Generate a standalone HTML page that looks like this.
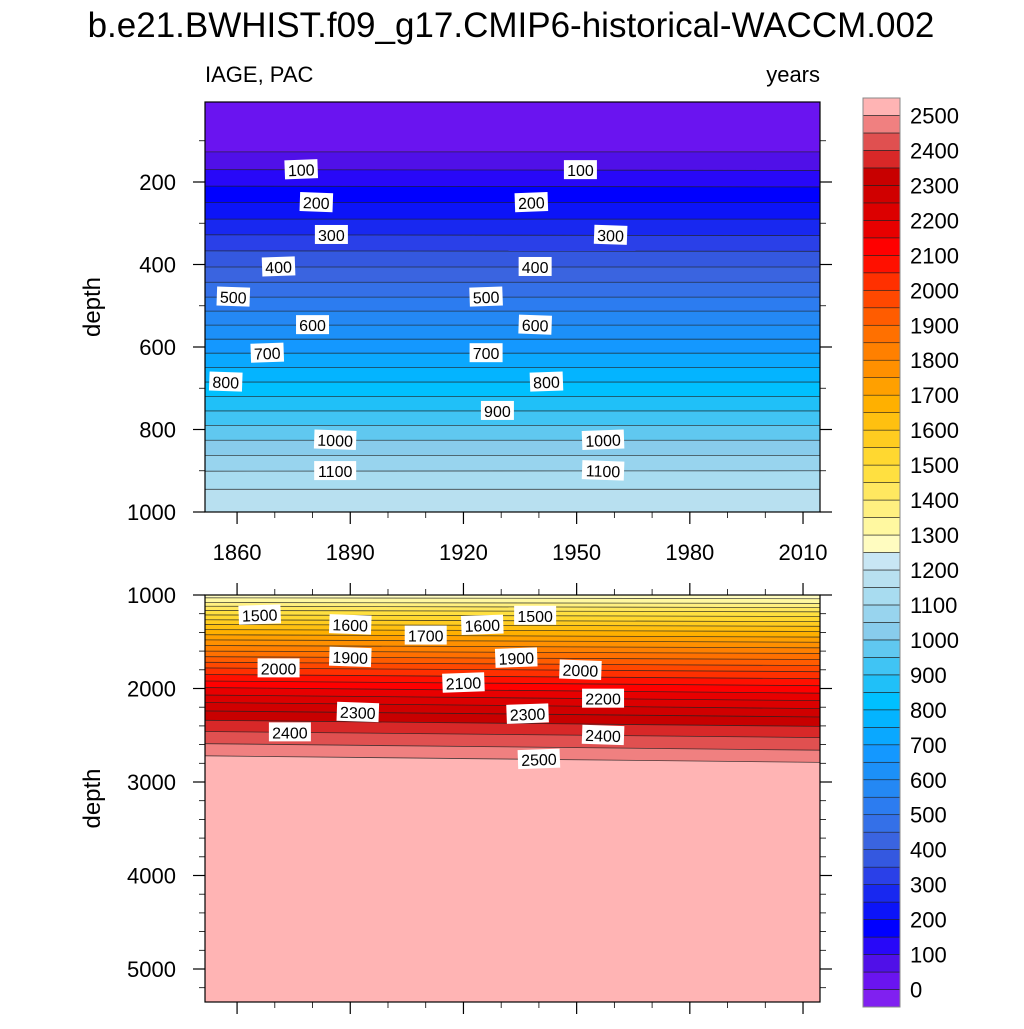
<!DOCTYPE html>
<html><head><meta charset="utf-8"><style>
body{margin:0;background:#fff;}
svg text{font-family:"Liberation Sans",sans-serif;}
</style></head><body>
<svg id="chart" width="1024" height="1024" viewBox="0 0 1024 1024" xmlns="http://www.w3.org/2000/svg">
<text x="511" y="37" text-anchor="middle" font-size="35">b.e21.BWHIST.f09_g17.CMIP6-historical-WACCM.002</text>
<text x="205" y="82" font-size="22">IAGE, PAC</text>
<text x="820" y="82" font-size="22" text-anchor="end">years</text>
<g id="top"></g><g id="bot"></g><g id="cbar"></g>
</svg>
<script>
const NS='http://www.w3.org/2000/svg';
const bandColors=['#8020f0','#6a14f0','#5010e8','#2808f8','#0000ff','#0c14f8','#1828f0','#2a40e8','#3458e0','#3a64e0','#3470e8','#2c7cf0','#2488f4','#1c90f8','#1498ff','#0aa8ff','#04b4ff','#00c0ff','#20c0f8','#40c4f4','#60c8f0','#88ccec','#98d4ee','#a8dcf0','#b8e0f0','#c8e6f4',
'#fffcc0','#fff8a0','#fff080','#ffe860','#ffe040','#ffd830','#ffcc20','#ffc010','#ffb000','#ffa000','#ff9000','#ff8000','#ff7000','#ff5c00','#ff4800','#ff3000','#ff1000','#ff0000','#e80000','#dc0000','#d00000','#c80000','#d82828','#e05050','#f08080','#ffb4b4'];
const topLevels=[50,100,150,200,250,300,350,400,450,500,550,600,650,700,750,800,850,900,950,1000,1050,1100,1150];
const topDepthStart=[127,170,210,250,290,328,367,406,443,479,513,547,581,615,650,685,720,755,790,826,863,901,945];
const topDepthEnd=[127,172,212,250,290,330,368,406,443,479,513,547,581,615,650,685,720,755,790,826,863,900,945];
const botLevels=[1300,1350,1400,1450,1500,1550,1600,1650,1700,1750,1800,1850,1900,1950,2000,2050,2100,2150,2200,2250,2300,2350,2400,2450,2500];
const botDepthStart=[1030,1080,1120,1165,1213,1265,1315,1370,1425,1480,1540,1600,1660,1720,1780,1850,1920,1990,2070,2150,2240,2340,2460,2590,2720];
const botDepthEnd=[1040,1090,1135,1180,1230,1285,1335,1390,1450,1505,1565,1625,1690,1755,1820,1895,1970,2050,2130,2215,2305,2405,2525,2660,2790];
const topLabelVals=[100,100,200,200,300,300,400,400,500,500,600,600,700,700,800,800,900,1000,1000,1100,1100];
const topLabelYears=[1877,1951,1881,1938,1885,1959,1871,1939,1859,1926,1880,1939,1868,1926,1857,1942,1929,1886,1957,1886,1957];
const botLabelVals=[1500,1500,1600,1600,1700,1900,1900,2000,2000,2100,2200,2300,2300,2400,2400,2500];
const botLabelYears=[1866,1939,1890,1925,1910,1890,1934,1871,1951,1920,1957,1892,1937,1874,1957,1940];
const xTicks=[1860,1890,1920,1950,1980,2010];
const topYTicks=[200,400,600,800,1000];
const botYTicks=[1000,2000,3000,4000,5000];
const cbLabels=[0,100,200,300,400,500,600,700,800,900,1000,1100,1200,1300,1400,1500,1600,1700,1800,1900,2000,2100,2200,2300,2400,2500];

const X0=205,X1=820,Y0=1851.5,Y1=2014.5;
const xs=y=>X0+(y-Y0)/(Y1-Y0)*(X1-X0);
function mk(tag,attrs,parent,name,text){const e=document.createElementNS(NS,tag);for(const k in attrs)e.setAttribute(k,attrs[k]);


if(text!==undefined)e.textContent=text;parent.appendChild(e);return e;}
function bandIndex(v){return v<0?0:Math.floor(v/50)+1;}

function panel(g,cfg){
  const {top,bot,ys,levels,ds,de,name}=cfg;
  const cid='clip-'+name;
  const defs=mk('defs',{},g,name+'-defs');
  const cp=mk('clipPath',{id:cid},defs,name+'-clip');
  mk('rect',{x:X0,y:top,width:X1-X0,height:bot-top},cp,name+'-clip-rect');
  const cg=mk('g',{'clip-path':'url(#'+cid+')'},g,name+'-contours');
  mk('rect',{x:X0,y:top,width:X1-X0,height:bot-top,fill:bandColors[bandIndex(levels[0]-1)]},cg,name+'-base-fill');
  const ya=xs(Y0),yb=xs(Y1);
  levels.forEach((L,i)=>{
    const p1=ys(ds[i]),p2=ys(de[i]);
    mk('polygon',{points:`${ya},${p1} ${yb},${p2} ${yb},${bot+5} ${ya},${bot+5}`,fill:bandColors[bandIndex(L)]},cg,name+'-band-'+L);
  });
  levels.forEach((L,i)=>{
    mk('line',{x1:ya,y1:ys(ds[i]),x2:yb,y2:ys(de[i]),stroke:'#222','stroke-width':0.8,'stroke-opacity':0.8},cg,name+'-contour-'+L);
  });
  mk('rect',{x:X0,y:top,width:X1-X0,height:bot-top,fill:'none',stroke:'#000','stroke-width':1.2},g,name+'-frame');
}
function depthAt(levels,ds,de,L,yr){const i=levels.indexOf(L);const t=(yr-Y0)/(Y1-Y0);return ds[i]+(de[i]-ds[i])*t;}
function labels(g,vals,years,levels,ds,de,ys,name){
  vals.forEach((v,i)=>{
    const x=xs(years[i]),y=ys(depthAt(levels,ds,de,v,years[i]));
    const w=v>=1000?42:33;
    const lg=mk('g',{transform:`rotate(${(i%3-1)*2} ${x} ${y})`},g,name+'-label-'+v);
    mk('rect',{x:x-w/2,y:y-10,width:w,height:19,fill:'#fff'},lg,name+'-label-box');
    mk('text',{x:x,y:y+6,'text-anchor':'middle','font-size':16},lg,name+'-label-text',String(v));
  });
}
function axes(g,cfg){
  const {top,bot,ys,yTicks,minor,name,xLabels,topTicks}=cfg;
  yTicks.forEach(t=>{const y=ys(t);
    mk('line',{x1:X0-12,y1:y,x2:X0,y2:y,stroke:'#000','stroke-width':1.2},g,name+'-ytick');
    mk('line',{x1:X1,y1:y,x2:X1+12,y2:y,stroke:'#000','stroke-width':1.2},g,name+'-ytick-right');
    mk('text',{x:X0-29,y:y+8,'text-anchor':'end','font-size':22},g,name+'-ytick-label',String(t));});
  minor.forEach(t=>{const y=ys(t);if(y<top-1||y>bot+1)return;
    mk('line',{x1:X0-6,y1:y,x2:X0,y2:y,stroke:'#000','stroke-width':0.8},g,name+'-yminor');
    mk('line',{x1:X1,y1:y,x2:X1+6,y2:y,stroke:'#000','stroke-width':0.8},g,name+'-yminor-right');});
  for(let yr=1860;yr<=2010;yr+=10){const x=xs(yr);const maj=xTicks.includes(yr);const l=maj?12:6;
    mk('line',{x1:x,y1:bot,x2:x,y2:bot+l,stroke:'#000','stroke-width':maj?1.2:0.8},g,name+'-xtick');
    if(topTicks)mk('line',{x1:x,y1:top-l,x2:x,y2:top,stroke:'#000','stroke-width':maj?1.2:0.8},g,name+'-xtick-top');}
  if(xLabels)xTicks.forEach(t=>mk('text',{x:xs(t),y:560,'text-anchor':'middle','font-size':22},g,name+'-xtick-label',String(t)));
  const cy=(top+bot)/2;
  mk('text',{x:100,y:cy,'text-anchor':'middle','font-size':24,transform:`rotate(-90 100 ${cy})`},g,name+'-y-axis-title','depth');
}
const ysTop=d=>99.5+d*0.4125;
const ysBot=d=>595+(d-1000)*0.0935;
const gt=document.getElementById('top'),gb=document.getElementById('bot');
panel(gt,{top:102,bot:512,ys:ysTop,levels:topLevels,ds:topDepthStart,de:topDepthEnd,name:'top-panel'});
labels(gt,topLabelVals,topLabelYears,topLevels,topDepthStart,topDepthEnd,ysTop,'top-panel');
const mt=[];for(let d=100;d<=1000;d+=100)mt.push(d);
axes(gt,{top:102,bot:512,ys:ysTop,yTicks:topYTicks,minor:mt,name:'top-panel',xLabels:true,topTicks:false});
panel(gb,{top:595,bot:1002,ys:ysBot,levels:botLevels,ds:botDepthStart,de:botDepthEnd,name:'bottom-panel'});
labels(gb,botLabelVals,botLabelYears,botLevels,botDepthStart,botDepthEnd,ysBot,'bottom-panel');
const mb=[];for(let d=1000;d<=5400;d+=200)mb.push(d);
axes(gb,{top:595,bot:1002,ys:ysBot,yTicks:botYTicks,minor:mb,name:'bottom-panel',xLabels:false,topTicks:true});
const cb=document.getElementById('cbar');
const CT=98,CB=1007,CX=863,CW=37,n=bandColors.length,h=(CB-CT)/n;
bandColors.forEach((c,i)=>{const y=CB-(i+1)*h;
  mk('rect',{x:CX,y:y,width:CW,height:h,fill:c,stroke:'#222','stroke-width':0.6},cb,'colorbar-box');});
mk('rect',{x:CX,y:CT,width:CW,height:CB-CT,fill:'none',stroke:'#888','stroke-width':1},cb,'colorbar-frame');
cbLabels.forEach(v=>{const y=CB-(bandIndex(v))*h;
  mk('text',{x:910,y:y+8,'font-size':22},cb,'colorbar-label',String(v));});
</script>
</body></html>
